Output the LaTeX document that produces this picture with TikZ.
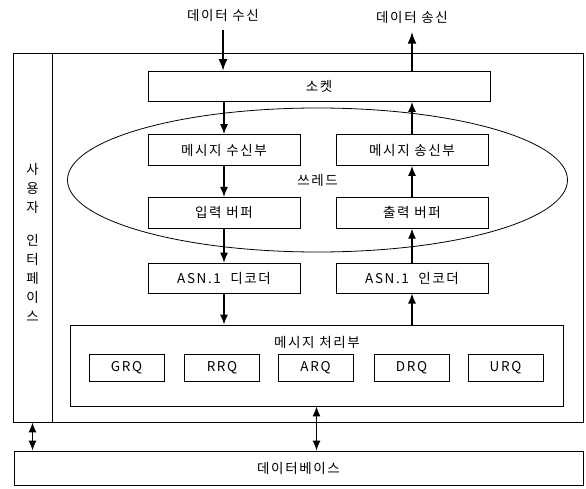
\documentclass[tikz,border=0pt]{standalone}
\usepackage{fontspec}
\setmainfont[LetterSpace=12]{Noto Sans CJK KR}
\usepackage{tikz}
\usetikzlibrary{arrows.meta, shapes.geometric, positioning, calc}

\tikzset{
  blk/.style={draw,line width=0.8pt,minimum width=152pt,minimum height=31pt,inner sep=0pt},
  req/.style={draw,line width=0.8pt,minimum width=75pt,minimum height=27pt,inner sep=0pt},
  panel/.style={draw,line width=0.8pt,inner sep=0pt},
  flow/.style={-{Latex[length=10pt,width=8pt]},line width=1.2pt},
  bigflow/.style={-{Latex[length=12pt,width=9pt]},line width=2.2pt},
  both/.style={{Latex[length=10pt,width=8pt]}-{Latex[length=10pt,width=8pt]},line width=1.2pt},
}

\begin{document}
\begin{tikzpicture}[x=1pt,y=-1pt,font=\fontsize{13.5}{16}\selectfont]
      \useasboundingbox (0,0) rectangle (586,489);
      \node[panel,minimum width=570pt,minimum height=369pt] (frame) at (298,237.5) {};
      \node[panel,minimum width=39pt,minimum height=369pt] (ui) at (32.5,237.5) {};
      \node[align=center,font=\fontsize{13.5}{19}\selectfont] (uiTxt) at (32.5,242) {사\\용\\자\\[14pt]인\\터\\페\\이\\스};
      \node[blk,minimum width=342pt,minimum height=30pt] (sock) at (319,86.5) {소켓};
      \node[ellipse,panel,minimum width=500pt,minimum height=144pt] (thread) at (317.5,180) {쓰레드};
      \node[blk] (rx) at (224,150) {메시지 수신부};
      \node[blk] (tx) at (412,150) {메시지 송신부};
      \node[blk,below=31pt of rx] (inbuf) {입력 버퍼};
      \node[blk,below=31pt of tx] (outbuf) {출력 버퍼};
      \node[blk,minimum height=30pt,below=34pt of inbuf] (dec) {ASN.1\ \ 디코더};
      \node[blk,minimum height=30pt,below=34pt of outbuf] (enc) {ASN.1\ \ 인코더};
      \node[panel,minimum width=493pt,minimum height=81pt] (proc) at (316.5,365.5) {};
      \node (procLbl) at (317,342) {메시지 처리부};
      \foreach \n/\x in {GRQ/126.5,RRQ/222,ARQ/315.5,DRQ/411.5,URQ/505.5}
        \node[req] (\n) at (\x,368) {\n};
      \node[panel,minimum width=569pt,minimum height=34pt] (db) at (298.5,468) {데이터베이스};
      \node (inLbl) at (223,15) {데이터 수신};
      \node (outLbl) at (412,17) {데이터 송신};
      \draw[bigflow] ([yshift=-5pt]inLbl.south) -- (inLbl.south |- sock.north);
      \draw[bigflow] (sock.north -| outLbl) -- ([yshift=-5pt]outLbl.south);
      \draw[flow] (sock.south -| rx) -- (rx);
      \draw[flow] (rx) -- (inbuf);
      \draw[flow] (inbuf) -- (dec);
      \draw[flow] (dec) -- (dec |- proc.north);
      \draw[flow] (enc |- proc.north) -- (enc);
      \draw[flow] (enc) -- (outbuf);
      \draw[flow] (outbuf) -- (tx);
      \draw[flow] (tx) -- (tx |- sock.south);
      \draw[both] (ui.south) -- (ui.south |- db.north);
      \draw[both] (proc.south) -- (proc.south |- db.north);
    \end{tikzpicture}
\end{document}
